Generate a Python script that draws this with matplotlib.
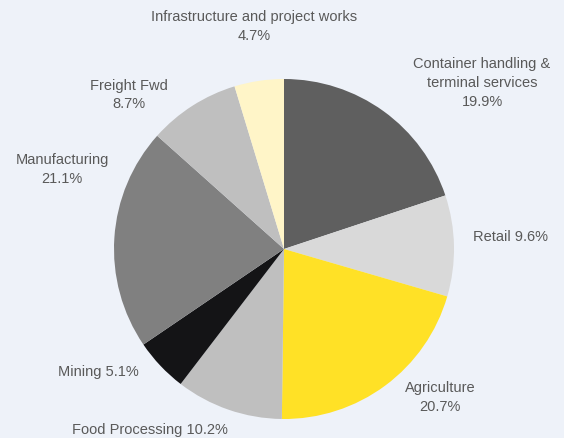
import matplotlib.pyplot as plt

# sector shares, clockwise from 12 o'clock
labels = ["Container handling &\nterminal services", "Retail", "Agriculture",
          "Food Processing", "Mining", "Manufacturing", "Freight Fwd",
          "Infrastructure and project works"]
shares = [19.9, 9.6, 20.7, 10.2, 5.1, 21.1, 8.7, 4.7]
colors = ["#5f5f5f", "#d9d9d9", "#ffe126", "#bfbfbf", "#141416",
          "#808080", "#bfbfbf", "#fff5c8"]

# label placement (radius units) and whether value sits on a new line
label_pos = [(1.165, 0.976), (1.33, 0.07), (0.918, -0.876), (-0.788, -1.065),
             (-1.094, -0.724), (-1.306, 0.465), (-0.912, 0.906), (-0.176, 1.31)]
new_line = [True, False, True, False, False, True, True, True]

bg = "#eef2f9"
plt.rcParams['font.family'] = ['Liberation Sans', 'DejaVu Sans']

fig = plt.figure(figsize=(5.64, 4.38), dpi=100, facecolor=bg)
ax = fig.add_axes([(284 - 170) / 564, (438 - 419) / 438, 340 / 564, 340 / 438])
ax.set_facecolor(bg)

ax.pie(shares, colors=colors, startangle=90, counterclock=False, radius=1,
       wedgeprops=dict(linewidth=0))

for lab, val, pos, nl in zip(labels, shares, label_pos, new_line):
    txt = lab + ("\n" if nl else " ") + f"{val:.1f}%"
    ax.text(pos[0], pos[1], txt, ha="center", va="center", fontsize=10.5,
            color="#595959", linespacing=1.45)

ax.set_xlim(-1, 1)
ax.set_ylim(-1, 1)
ax.set_aspect("equal")
ax.axis("off")

fig.savefig("out.png", dpi=100, facecolor=bg)
